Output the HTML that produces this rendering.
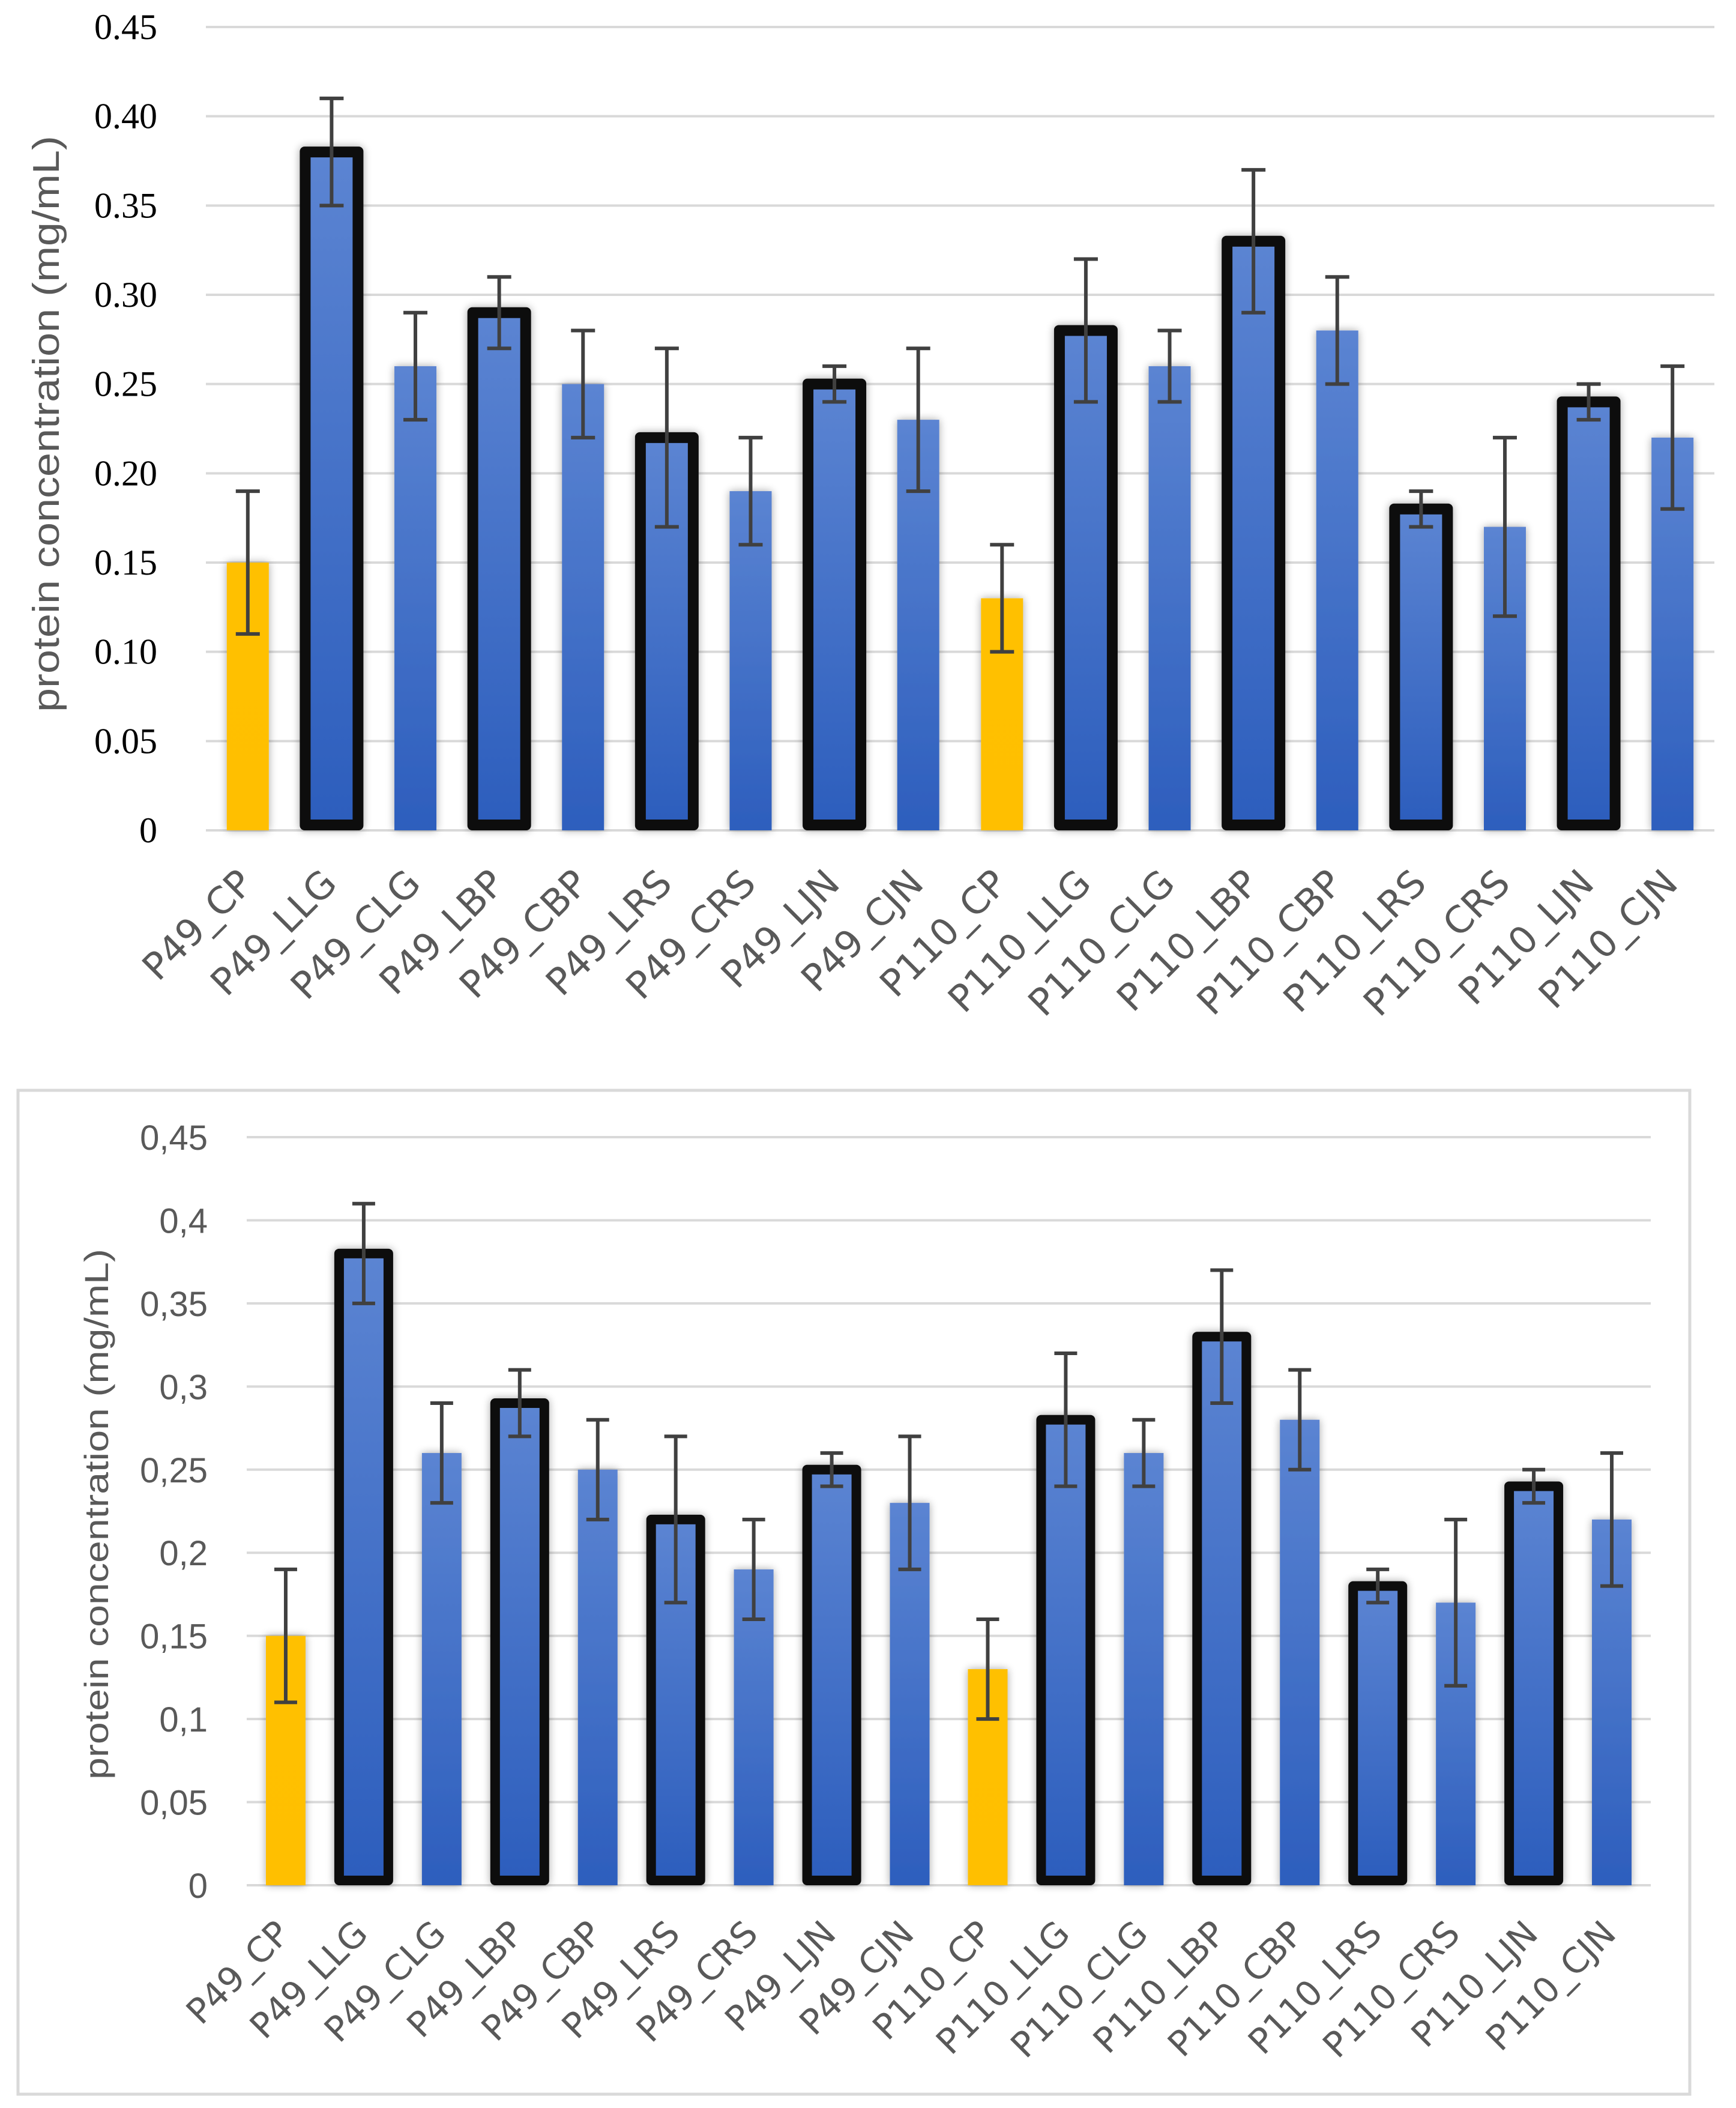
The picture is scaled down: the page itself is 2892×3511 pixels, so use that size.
<!DOCTYPE html>
<html><head><meta charset="utf-8"><style>
html,body{margin:0;padding:0;background:#fff;width:2892px;height:3511px;overflow:hidden}
svg{display:block}
</style></head><body>
<svg id="svg" width="2892" height="3511" viewBox="0 0 2892 3511" xmlns="http://www.w3.org/2000/svg">
<defs>
<linearGradient id="blueG" x1="0" y1="0" x2="0" y2="1"><stop offset="0" stop-color="#5b84d2"/><stop offset="1" stop-color="#2d5ebd"/></linearGradient>
<linearGradient id="yelG" x1="0" y1="0" x2="0" y2="1"><stop offset="0" stop-color="#ffc000"/><stop offset="1" stop-color="#ffbf00"/></linearGradient>
<filter id="sh" x="-40%" y="-5%" width="180%" height="110%"><feGaussianBlur in="SourceAlpha" stdDeviation="7"/><feOffset dx="0" dy="0"/><feComponentTransfer><feFuncA type="linear" slope="0.35"/></feComponentTransfer><feMerge><feMergeNode/><feMergeNode in="SourceGraphic"/></feMerge></filter>
</defs>
<rect x="30" y="1816" width="2785" height="1672" fill="#fff" stroke="#d9d9d9" stroke-width="5"/>
<g id="top"></g>
<g id="bot"></g>
</svg>
<script>
const categories = ["P49_CP","P49_LLG","P49_CLG","P49_LBP","P49_CBP","P49_LRS","P49_CRS","P49_LJN","P49_CJN","P110_CP","P110_LLG","P110_CLG","P110_LBP","P110_CBP","P110_LRS","P110_CRS","P110_LJN","P110_CJN"];
const values = [0.15,0.38,0.26,0.29,0.25,0.22,0.19,0.25,0.23,0.13,0.28,0.26,0.33,0.28,0.18,0.17,0.24,0.22];
const errors = [0.04,0.03,0.03,0.02,0.03,0.05,0.03,0.01,0.04,0.03,0.04,0.02,0.04,0.03,0.01,0.05,0.01,0.04];
const barKind = ["control","bordered","plain","bordered","plain","bordered","plain","bordered","plain","control","bordered","plain","bordered","plain","bordered","plain","bordered","plain"];
const tickValues = [0,0.05,0.1,0.15,0.2,0.25,0.3,0.35,0.4,0.45];
const topTickLabels = ["0","0.05","0.10","0.15","0.20","0.25","0.30","0.35","0.40","0.45"];
const botTickLabels = ["0","0,05","0,1","0,15","0,2","0,25","0,3","0,35","0,4","0,45"];

const NS="http://www.w3.org/2000/svg";
function mk(parent,tag,attrs,text){const e=document.createElementNS(NS,tag);for(const k in attrs)e.setAttribute(k,attrs[k]);if(text!==undefined)e.textContent=text;parent.appendChild(e);return e;}

function drawChart(g, cfg){
  const yScale=v=>cfg.y0-(v/0.45)*(cfg.y0-cfg.y45);
  const band=(cfg.xR-cfg.xL)/categories.length;
  const xCenter=i=>cfg.xL+band*(i+0.5);
  tickValues.forEach((t,i)=>{
    const y=yScale(t);
    const gl=mk(g,'line',{x1:cfg.xL,x2:cfg.xR,y1:y,y2:y,stroke:'#d9d9d9','stroke-width':cfg.gw});
    
    
    const tl=mk(g,'text',{x:cfg.tickX,y:y+cfg.tickDy,'text-anchor':'end','font-family':cfg.tickFont,'font-size':cfg.tickSize,fill:cfg.tickColor},cfg.tickLabels[i]);
    
    
  });
  categories.forEach((c,i)=>{
    const cx=xCenter(i), v=values[i], yt=yScale(v), y0=yScale(0);
    const bg=mk(g,'g',{});
    
    
    if(barKind[i]==='bordered'){
      const w=cfg.bw+2*cfg.bb;
      mk(bg,'rect',{x:cx-w/2,y:yt-cfg.bb/2,width:w,height:y0-yt+cfg.bb/2,rx:8,fill:'#0d0d0d',filter:'url(#sh)'});
      mk(bg,'rect',{x:cx-w/2+cfg.bb,y:yt+cfg.bb/2,width:w-2*cfg.bb,height:Math.max(0,y0-yt-1.5*cfg.bb),fill:'url(#blueG)'});
    } else {
      mk(bg,'rect',{x:cx-cfg.bw/2,y:yt,width:cfg.bw,height:y0-yt,fill:barKind[i]==='control'?'url(#yelG)':'url(#blueG)',filter:'url(#sh)'});
    }
    const e=errors[i], yh=yScale(v+e), yl=yScale(v-e);
    const eb=mk(g,'g',{stroke:'#404040','stroke-width':cfg.ew,fill:'none'});
    
    
    mk(eb,'line',{x1:cx,x2:cx,y1:yh,y2:yl});
    mk(eb,'line',{x1:cx-cfg.cap/2,x2:cx+cfg.cap/2,y1:yh,y2:yh});
    mk(eb,'line',{x1:cx-cfg.cap/2,x2:cx+cfg.cap/2,y1:yl,y2:yl});
    const lx=cx+cfg.lblDx, ly=y0+cfg.lblDy;
    const xl=mk(g,'text',{x:lx,y:ly,'text-anchor':'end','font-family':'"DejaVu Sans","Liberation Sans",sans-serif','font-size':cfg.lblSize,fill:'#595959',transform:`rotate(-45 ${lx} ${ly})`},c);
    
    
  });
  const t=mk(g,'text',{x:0,y:0,'text-anchor':'middle','font-family':'"Liberation Sans Narrow","Liberation Sans",sans-serif','font-size':cfg.titleSize,fill:'#595959',textLength:cfg.titleLen,lengthAdjust:'spacingAndGlyphs',transform:`translate(${cfg.titleX} ${cfg.titleY}) rotate(-90)`},'protein concentration (mg/mL)');
  
  
}

drawChart(document.getElementById('top'),{
  y0:1383,y45:45,xL:343,xR:2856,gw:4,bw:70,bb:18,ew:6,cap:40,
  tickX:262,tickDy:20,tickFont:'"Liberation Serif",serif',tickSize:60,tickColor:'#000',tickLabels:topTickLabels,
  lblDx:12,lblDy:92,lblSize:62,titleSize:62,titleLen:960,titleX:98,titleY:706
});
drawChart(document.getElementById('bot'),{
  y0:3140,y45:1894,xL:411,xR:2750,gw:4,bw:66,bb:16,ew:6,cap:38,
  tickX:346,tickDy:21,tickFont:'"Liberation Sans",sans-serif',tickSize:58,tickColor:'#595959',tickLabels:botTickLabels,
  lblDx:10,lblDy:84,lblSize:58,titleSize:56,titleLen:884,titleX:180,titleY:2522
});
</script>
</body></html>
